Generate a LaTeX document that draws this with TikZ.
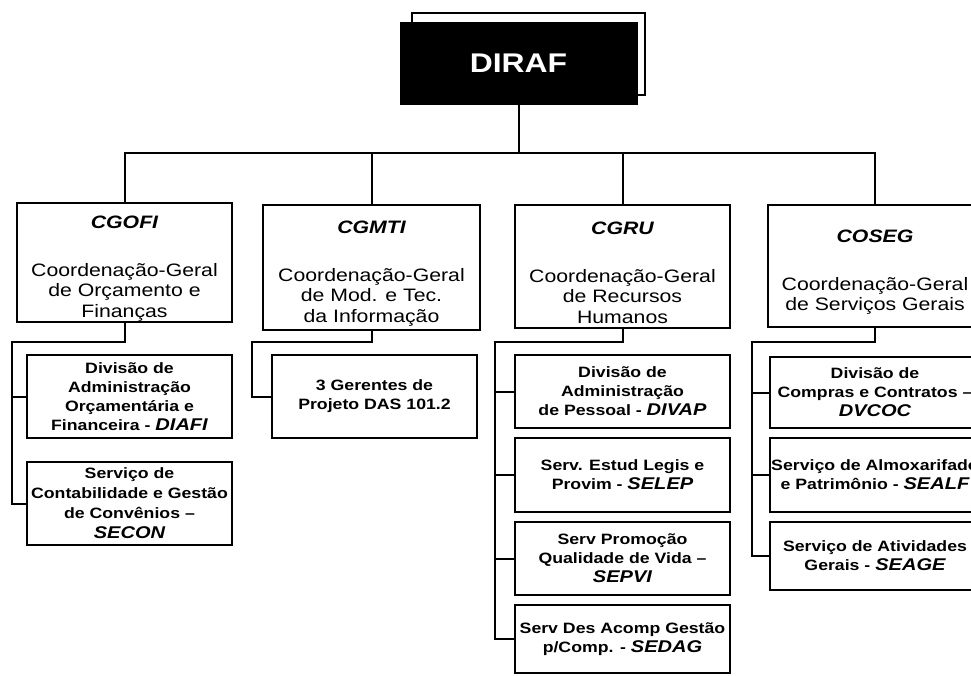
\documentclass[tikz,border=0pt]{standalone}
\usepackage{fontspec}
\setmainfont{Liberation Sans}[FakeStretch=1.18]
\newcommand\sigla[1]{{\bfseries\itshape\fontsize{17}{19}\selectfont #1}}
\newcommand\titulo[1]{\rule{0pt}{25pt}{\bfseries\itshape\fontsize{18}{20.5}\selectfont #1}}
\tikzset{
  head/.style={draw=black, line width=2.5pt, fill=white, align=center,
    inner sep=0pt, font=\fontsize{18}{20.5}\selectfont},
  unit/.style={draw=black, line width=2pt, fill=white, align=center,
    inner sep=0pt, font=\bfseries\fontsize{15}{19}\selectfont},
  conn/.style={line width=2pt, line cap=rect},
}
\begin{document}
\begin{tikzpicture}[x=1pt, y=-1pt]
\useasboundingbox (0,0) rectangle (971,675);
\fill[white] (0,0) rectangle (971,675);
\begin{scope}
\clip (0,0) rectangle (971,675);

% top-level directorate: shadow frame and black box
\node[draw=black, line width=2.5pt, fill=white, minimum width=233pt,
      minimum height=82pt] (dirafback) at (528.5,54) {};
\node[draw=black, fill=black, minimum width=237pt, minimum height=82pt,
      text=white, font=\bfseries\fontsize{27}{30}\selectfont] (diraf) at (518.5,63) {DIRAF};

\coordinate (bus) at (516,153);

% general coordinations
\node[head, minimum width=215pt, minimum height=119pt] (cgofi) at (124.5,262.5)
  {\titulo{CGOFI}\\[27pt]Coordenação-Geral\\de Orçamento e\\Finanças};
\node[head, minimum width=217pt, minimum height=125pt] (cgmti) at (371.5,267.5)
  {\titulo{CGMTI}\\[27pt]Coordenação-Geral\\de Mod. e Tec.\\da Informação};
\node[head, minimum width=215pt, minimum height=123pt] (cgru) at (622.5,266.5)
  {\titulo{CGRU}\\[27pt]Coordenação-Geral\\de Recursos\\Humanos};
\node[head, minimum width=214pt, minimum height=122pt] (coseg) at (875,266)
  {\titulo{COSEG}\\[27pt]Coordenação-Geral\\de Serviços Gerais};

% divisions and services
\node[unit, minimum width=205pt, minimum height=83pt] (diafi) at (129.5,396.5)
  {Divisão de\\Administração\\Orçamentária e\\Financeira - \sigla{DIAFI}};
\node[unit, minimum width=205pt, minimum height=83pt, font=\bfseries\fontsize{15}{20}\selectfont] (secon) at (129.5,503.5)
  {Serviço de\\Contabilidade e Gestão\\de Convênios –\\\sigla{SECON}};
\node[unit, minimum width=205pt, minimum height=83pt] (gerentes) at (374.5,396.5)
  {3 Gerentes de\\Projeto DAS 101.2};

\node[unit, minimum width=215pt, minimum height=73pt] (divap) at (622.5,391.5)
  {Divisão de\\Administração\\de Pessoal - \sigla{DIVAP}};
\node[unit, minimum width=215pt, minimum height=74pt] (selep) at (622.5,475)
  {Serv. Estud Legis e\\Provim - \sigla{SELEP}};
\node[unit, minimum width=215pt, minimum height=73pt] (sepvi) at (622.5,558.5)
  {Serv Promoção\\Qualidade de Vida –\\\sigla{SEPVI}};
\node[unit, minimum width=215pt, minimum height=68pt] (sedag) at (622.5,639)
  {Serv Des Acomp Gestão\\p/Comp. - \sigla{SEDAG}};

\node[unit, minimum width=210pt, minimum height=71pt] (dvcoc) at (875,392.5)
  {Divisão de\\Compras e Contratos –\\\sigla{DVCOC}};
\node[unit, minimum width=210pt, minimum height=74pt] (sealf) at (875,475)
  {Serviço de Almoxarifado\\e Patrimônio - \sigla{SEALF}};
\node[unit, minimum width=210pt, minimum height=68pt] (seage) at (875,556)
  {Serviço de Atividades\\Gerais - \sigla{SEAGE}};

% main bus
\draw[conn] (diraf.south) -- (diraf.south |- bus);
\draw[conn] (cgofi.north) -- (cgofi.north |- bus) -- (coseg.north |- bus) -- (coseg.north);
\draw[conn] (cgmti.north) -- (cgmti.north |- bus);
\draw[conn] (cgru.north) -- (cgru.north |- bus);

% spines to the subordinate units
\coordinate (jofi) at (12,342);
\coordinate (jmti) at (252,342);
\coordinate (jru) at (495,342);
\coordinate (jse) at (752,342);

\draw[conn] (cgofi.south) -- (cgofi.south |- jofi) -- (jofi) -- (jofi |- secon.west) -- (secon.west);
\draw[conn] (jofi |- diafi.west) -- (diafi.west);

\draw[conn] (cgmti.south) -- (cgmti.south |- jmti) -- (jmti) -- (jmti |- gerentes.west) -- (gerentes.west);

\draw[conn] (cgru.south) -- (cgru.south |- jru) -- (jru) -- (jru |- sedag.west) -- (sedag.west);
\draw[conn] (jru |- divap.west) -- (divap.west);
\draw[conn] (jru |- selep.west) -- (selep.west);
\draw[conn] (jru |- sepvi.west) -- (sepvi.west);

\draw[conn] (coseg.south) -- (coseg.south |- jse) -- (jse) -- (jse |- seage.west) -- (seage.west);
\draw[conn] (jse |- dvcoc.west) -- (dvcoc.west);
\draw[conn] (jse |- sealf.west) -- (sealf.west);
\end{scope}
\end{tikzpicture}
\end{document}
